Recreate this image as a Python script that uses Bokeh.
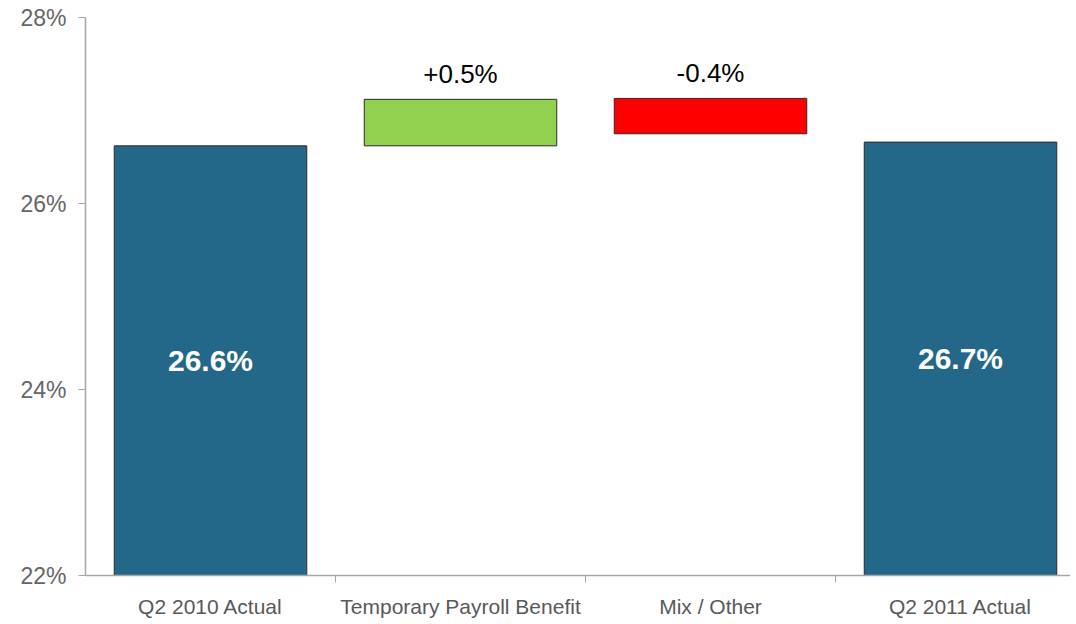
from bokeh.plotting import figure
from bokeh.models import FixedTicker, PrintfTickFormatter, ColumnDataSource, Range1d
from bokeh.core.properties import value
from bokeh.embed import file_html
from bokeh.resources import INLINE

categories = ["Q2 2010 Actual", "Temporary Payroll Benefit", "Mix / Other", "Q2 2011 Actual"]
bar_bottoms = [22.0, 26.62, 26.75, 22.0]
bar_tops = [26.62, 27.12, 27.13, 26.66]
bar_colors = ["#236789", "#92D050", "#FF0000", "#236789"]
value_labels = ["26.6%", "+0.5%", "-0.4%", "26.7%"]
y_ticks = [22, 24, 26, 28]

xs = [i + 0.5 for i in range(len(categories))]

p = figure(width=1070, height=622, output_backend="svg", toolbar_location=None,
           x_range=Range1d(0, 3.94), y_range=Range1d(22, 28),
           min_border_left=85, min_border_right=0, min_border_top=17, min_border_bottom=47)
p.outline_line_color = None
p.grid.visible = False
p.background_fill_color = "white"

src = ColumnDataSource(dict(x=xs, bottom=bar_bottoms, top=bar_tops, color=bar_colors))
p.vbar(x="x", width=0.77, bottom="bottom", top="top", fill_color="color",
       line_color="#2b2b2b", line_width=1, source=src)

# value labels
inside_x = [xs[0], xs[3]]
inside_y = [(bar_bottoms[0] + bar_tops[0]) / 2, (bar_bottoms[3] + bar_tops[3]) / 2]
p.text(x=inside_x, y=inside_y, text=[value_labels[0], value_labels[3]],
       text_color="white", text_font=value("Liberation Sans"), text_font_style="bold",
       text_font_size="30px", text_align="center", text_baseline="middle")
above_x = [xs[1], xs[2]]
above_y = [max(bar_tops[1], bar_bottoms[1]), max(bar_tops[2], bar_bottoms[2])]
p.text(x=above_x, y=above_y, text=[value_labels[1], value_labels[2]],
       text_color="black", text_font=value("Liberation Sans"),
       text_font_size="26px", text_align="center", text_baseline="bottom", y_offset=-10)

# y axis
ya = p.yaxis[0]
ya.ticker = FixedTicker(ticks=y_ticks, minor_ticks=[])
ya.formatter = PrintfTickFormatter(format="%d%%")
ya.axis_line_color = "#a6a6a6"
ya.axis_line_width = 1.5
ya.major_tick_line_color = "#a6a6a6"
ya.major_tick_out = 7
ya.major_tick_in = 0
ya.minor_tick_line_color = None
ya.major_label_text_font = "Liberation Sans"
ya.major_label_text_font_size = "23px"
ya.major_label_text_color = "#666666"
ya.major_label_standoff = 12

# x axis
xa = p.xaxis[0]
xa.ticker = FixedTicker(ticks=xs, minor_ticks=[1, 2, 3])
xa.major_label_overrides = {x: c for x, c in zip(xs, categories)}
xa.axis_line_color = "#a6a6a6"
xa.axis_line_width = 1.5
xa.major_tick_line_color = None
xa.major_tick_out = 0
xa.major_tick_in = 0
xa.minor_tick_line_color = "#a6a6a6"
xa.minor_tick_out = 7
xa.minor_tick_in = 0
xa.major_label_text_font = "Liberation Sans"
xa.major_label_text_font_size = "21px"
xa.major_label_text_color = "#595959"
xa.major_label_standoff = 12

open("out.html", "w").write(file_html(p, INLINE))
